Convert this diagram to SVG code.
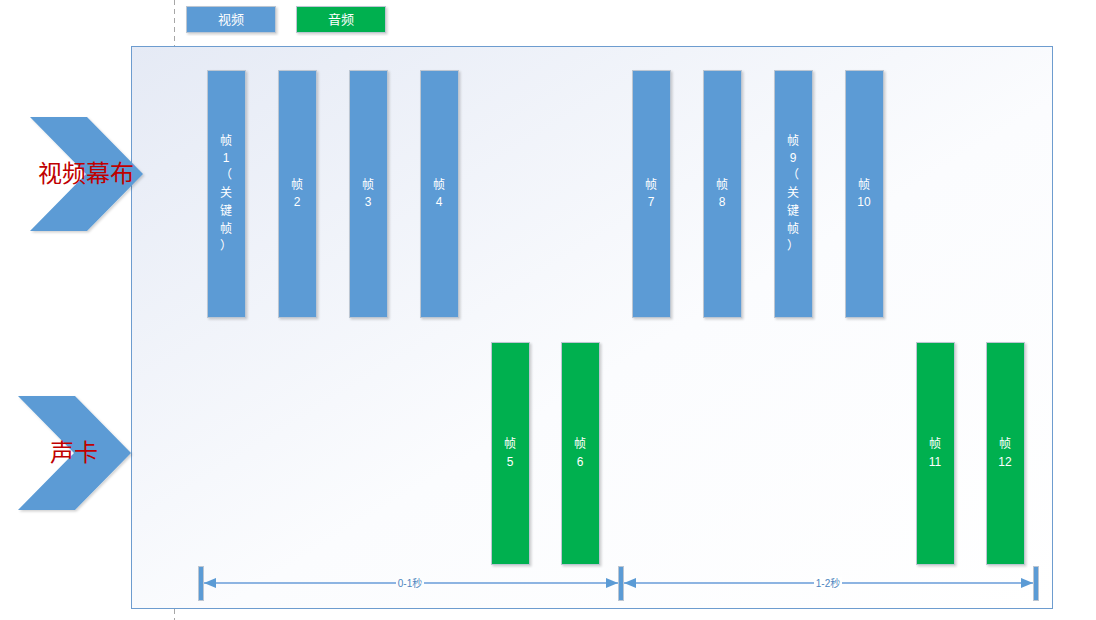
<svg xmlns="http://www.w3.org/2000/svg" width="1096" height="620" viewBox="0 0 1096 620">
<defs>
<linearGradient id="bg" x1="0" y1="0" x2="1" y2="1">
<stop offset="0" stop-color="#e5eaf5"/>
<stop offset="0.55" stop-color="#fbfcfe"/>
<stop offset="1" stop-color="#ffffff"/>
</linearGradient>
<filter id="sh" x="-20%" y="-5%" width="150%" height="115%">
<feDropShadow dx="1.5" dy="1.5" stdDeviation="1.2" flood-color="#000" flood-opacity="0.18"/>
</filter>
<marker id="ah" viewBox="0 0 12 10" refX="12" refY="5" markerWidth="12" markerHeight="10" markerUnits="userSpaceOnUse" orient="auto-start-reverse">
<path d="M0,0 L12,5 L0,10 Z" fill="#5b9bd5"/>
</marker>
<style>
.v{fill:#5b9bd5;stroke:#bcc6d2;stroke-width:1;filter:url(#sh)}
.a{fill:#00b050;stroke:#bcc6d2;stroke-width:1;filter:url(#sh)}
.t{font-family:"Liberation Sans","Noto Sans CJK SC",sans-serif;font-size:12px;fill:#ffffff;text-anchor:middle}
.lg{font-size:13px}
.lbl{font-family:"Noto Sans CJK SC","Liberation Sans",sans-serif;font-size:24px;fill:#c00000;text-anchor:middle}
.chev{fill:#5b9bd5;filter:url(#sh)}
.tick{fill:#5b9bd5;stroke:#bcc6d2;stroke-width:1}
.dim{stroke:#8db4e2;stroke-width:2;fill:none}
.dt{font-family:"Liberation Sans","Noto Sans CJK SC",sans-serif;font-size:10px;fill:#4f86c0;text-anchor:middle}
</style>
</defs>
<line x1="174.5" y1="0" x2="174.5" y2="46" stroke="#a6a6a6" stroke-dasharray="5,4"/>
<line x1="174.5" y1="609" x2="174.5" y2="620" stroke="#a6a6a6" stroke-dasharray="5,4"/>
<g id="legend">
<g id="legend-video"><rect class="v" x="186.5" y="6.5" width="89" height="26"/><text class="t lg" x="231" y="24">视频</text></g>
<g id="legend-audio"><rect class="a" x="296.5" y="6.5" width="89" height="26"/><text class="t lg" x="341" y="24">音频</text></g>
</g>
<rect id="frame" x="131.5" y="46.5" width="921" height="562" fill="url(#bg)" stroke="#6d9ccf" stroke-width="1"/>
<g id="screen-label">
<polygon class="chev" points="30,117 87,117 143,174 87,231 30,231 86,174"/>
<text class="lbl" x="86" y="182">视频幕布</text>
</g>
<g id="sound-label">
<polygon class="chev" points="18,396 75,396 131,453 75,510 18,510 74,453"/>
<text class="lbl" x="74" y="461">声卡</text>
</g>
<g id="f1"><rect class="v" x="207.5" y="70.5" width="38" height="247"/>
<text class="t" x="226" y="145">帧</text><text class="t" x="226" y="162">1</text><text class="t" x="226" y="179">（</text><text class="t" x="226" y="197">关</text><text class="t" x="226" y="215">键</text><text class="t" x="226" y="233">帧</text><text class="t" x="226" y="250">）</text></g>
<g id="f2"><rect class="v" x="278.5" y="70.5" width="38" height="247"/><text class="t" x="297" y="189">帧</text><text class="t" x="297" y="206">2</text></g>
<g id="f3"><rect class="v" x="349.5" y="70.5" width="38" height="247"/><text class="t" x="368" y="189">帧</text><text class="t" x="368" y="206">3</text></g>
<g id="f4"><rect class="v" x="420.5" y="70.5" width="38" height="247"/><text class="t" x="439" y="189">帧</text><text class="t" x="439" y="206">4</text></g>
<g id="f7"><rect class="v" x="632.5" y="70.5" width="38" height="247"/><text class="t" x="651" y="189">帧</text><text class="t" x="651" y="206">7</text></g>
<g id="f8"><rect class="v" x="703.5" y="70.5" width="38" height="247"/><text class="t" x="722" y="189">帧</text><text class="t" x="722" y="206">8</text></g>
<g id="f9"><rect class="v" x="774.5" y="70.5" width="38" height="247"/>
<text class="t" x="793" y="145">帧</text><text class="t" x="793" y="162">9</text><text class="t" x="793" y="179">（</text><text class="t" x="793" y="197">关</text><text class="t" x="793" y="215">键</text><text class="t" x="793" y="233">帧</text><text class="t" x="793" y="250">）</text></g>
<g id="f10"><rect class="v" x="845.5" y="70.5" width="38" height="247"/><text class="t" x="864" y="189">帧</text><text class="t" x="864" y="206">10</text></g>
<g id="f5"><rect class="a" x="491.5" y="342.5" width="38" height="222"/><text class="t" x="510" y="448">帧</text><text class="t" x="510" y="466">5</text></g>
<g id="f6"><rect class="a" x="561.5" y="342.5" width="38" height="222"/><text class="t" x="580" y="448">帧</text><text class="t" x="580" y="466">6</text></g>
<g id="f11"><rect class="a" x="916.5" y="342.5" width="38" height="222"/><text class="t" x="935" y="448">帧</text><text class="t" x="935" y="466">11</text></g>
<g id="f12"><rect class="a" x="986.5" y="342.5" width="38" height="222"/><text class="t" x="1005" y="448">帧</text><text class="t" x="1005" y="466">12</text></g>
<g id="timeline">
<rect class="tick" x="198.5" y="566.5" width="5" height="34"/>
<rect class="tick" x="618.5" y="566.5" width="5" height="34"/>
<rect class="tick" x="1033.5" y="566.5" width="5" height="34"/>
<line class="dim" x1="204" y1="583" x2="618" y2="583" marker-start="url(#ah)" marker-end="url(#ah)"/>
<line class="dim" x1="624" y1="583" x2="1033" y2="583" marker-start="url(#ah)" marker-end="url(#ah)"/>
<rect x="396" y="577" width="28" height="12" fill="#fcfdfe"/>
<text class="dt" x="410" y="587">0-1秒</text>
<rect x="814" y="577" width="28" height="12" fill="#ffffff"/>
<text class="dt" x="828" y="587">1-2秒</text>
</g>
</svg>
